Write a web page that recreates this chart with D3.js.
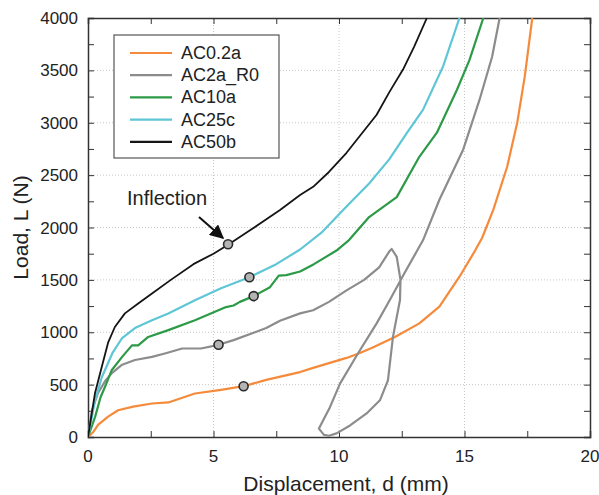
<!DOCTYPE html>
<html>
<head>
<meta charset="utf-8">
<script src="https://cdn.jsdelivr.net/npm/d3@7"></script>
<style>
  body { margin: 0; background: #fff; }
  svg text { font-family: Arial, "Liberation Sans", sans-serif; fill: #222; }
</style>
</head>
<body>
<svg id="chart" width="599" height="495"></svg>
<script>
// series: [displacement (mm), load (N)]
const ac02a = [[0,0],[0.2,45],[0.4,115],[0.8,195],[1.2,255],[1.8,290],[2.55,320],[3.2,330],[4.26,415],[5.3,450],[6.2,485],
  [7.1,545],[8.45,620],[8.97,660],[10.3,755],[10.76,795],[11.3,850],[12.23,955],[13.2,1085],[14.0,1245],[14.8,1530],
  [15.35,1750],[15.7,1900],[16.15,2170],[16.7,2580],[17.1,3000],[17.4,3440],[17.7,4000]];
const ac2aR0 = [[0,0],[0.16,255],[0.4,420],[0.7,540],[0.95,610],[1.36,690],[1.87,735],[2.55,765],[3.1,800],
  [3.75,845],[4.5,845],[5.2,880],[5.8,925],[7.1,1040],[7.65,1110],[8.45,1180],[8.97,1210],[9.6,1290],
  [10.3,1400],[11,1500],[11.6,1620],[12.0,1770],[12.1,1795],[12.3,1720],[12.45,1500],[12.43,1308],
  [12.15,956],[11.95,540],[11.63,350],[11.1,225],[10.44,110],[9.9,35],[9.6,12],[9.4,20],[9.2,80],
  [9.64,285],[10.04,510],[10.76,800],[11.5,1085],[12.03,1310],[12.6,1560],[13.35,1880],[14.0,2265],[14.95,2745],
  [15.6,3220],[16.1,3630],[16.4,4000]];
const ac10a = [[0,0],[0.28,190],[0.5,380],[0.67,475],[0.95,640],[1.36,765],[1.75,875],[2.0,875],[2.4,955],
  [3.2,1020],[4.26,1115],[5.5,1240],[5.8,1255],[6.05,1290],[6.6,1345],[7.25,1430],[7.6,1540],[7.9,1545],
  [8.45,1580],[9.0,1650],[9.9,1780],[10.4,1880],[11.2,2100],[12.3,2290],[13.2,2675],[13.9,2905],
  [14.7,3315],[15.2,3600],[15.75,4000]];
const ac25c = [[0,0],[0.28,350],[0.55,570],[0.97,800],[1.36,945],[1.87,1040],[2.55,1115],[3.2,1180],[4.26,1305],
  [5.3,1420],[6.43,1525],[7.5,1650],[8.45,1790],[9.3,1950],[10.3,2200],[11.2,2420],[12.0,2650],[12.7,2900],
  [13.35,3125],[14.15,3540],[14.8,4000]];
const ac50b = [[0,0],[0.28,420],[0.55,670],[0.8,900],[1.07,1050],[1.47,1180],[2.0,1275],[2.55,1370],[3.3,1500],
  [4.2,1650],[5.0,1750],[5.58,1835],[6.5,1980],[7.65,2168],[8.45,2310],[8.97,2388],[9.6,2530],[10.3,2713],[11.5,3077],
  [12.0,3290],[12.55,3508],[13.0,3730],[13.5,4000]];

const seriesNames = ["AC0.2a", "AC2a_R0", "AC10a", "AC25c", "AC50b"];
const seriesData = [ac02a, ac2aR0, ac10a, ac25c, ac50b];
const seriesColors = ["#f58b3a", "#8c8c8c", "#2c9a47", "#5fc6d6", "#151515"];

// inflection points
const inflections = [[6.2,485],[5.2,880],[6.6,1345],[6.43,1525],[5.58,1840]];

const xTicks = [0, 5, 10, 15, 20];
const yTicks = [0, 500, 1000, 1500, 2000, 2500, 3000, 3500, 4000];

const svg = d3.select("#chart");
const margin = {left: 88, right: 9, top: 18, bottom: 58};
const W = 599, H = 495;

const x = d3.scaleLinear().domain([0, 20]).range([margin.left, W - margin.right]);
const y = d3.scaleLinear().domain([0, 4000]).range([H - margin.bottom, margin.top]);

// dotted grid
svg.append("g")
    .selectAll("line")
    .data(xTicks.slice(1, -1))
    .join("line")
    .attr("x1", d => x(d)).attr("x2", d => x(d))
    .attr("y1", y(0)).attr("y2", y(4000))
    .attr("stroke", "#c8c8c8")
    .attr("stroke-dasharray", "1,2");

svg.append("g")
    .selectAll("line")
    .data(yTicks.slice(1, -1))
    .join("line")
    .attr("x1", x(0)).attr("x2", x(20))
    .attr("y1", d => y(d)).attr("y2", d => y(d))
    .attr("stroke", "#c8c8c8")
    .attr("stroke-dasharray", "1,2");

// axes with inward ticks on all sides
const xMinor = d3.range(0, 20.01, 2.5);
const yMinor = d3.range(0, 4000.1, 250);

svg.append("g")
    .attr("class", "axis")
    .attr("transform", `translate(0,${y(0)})`)
    .call(d3.axisBottom(x).tickValues(xMinor).tickSize(-6).tickFormat(""));
svg.append("g")
    .attr("class", "axis")
    .attr("transform", `translate(0,${y(4000)})`)
    .call(d3.axisTop(x).tickValues(xMinor).tickSize(-6).tickFormat(""));
svg.append("g")
    .attr("class", "axis")
    .attr("transform", `translate(${x(0)},0)`)
    .call(d3.axisLeft(y).tickValues(yMinor).tickSize(-6).tickFormat(""));
svg.append("g")
    .attr("class", "axis")
    .attr("transform", `translate(${x(20)},0)`)
    .call(d3.axisRight(y).tickValues(yMinor).tickSize(-6).tickFormat(""));

svg.selectAll(".axis path").attr("stroke", "#333").attr("stroke-width", 1.5);
svg.selectAll(".axis line").attr("stroke", "#333");

// tick labels
svg.append("g")
    .selectAll("text")
    .data(xTicks)
    .join("text")
    .attr("x", d => x(d))
    .attr("y", y(0) + 25)
    .attr("text-anchor", "middle")
    .attr("font-size", 17)
    .text(d => d);

svg.append("g")
    .selectAll("text")
    .data(yTicks)
    .join("text")
    .attr("x", x(0) - 10)
    .attr("y", d => y(d) + 6)
    .attr("text-anchor", "end")
    .attr("font-size", 17)
    .text(d => d);

svg.append("text")
    .attr("x", 346)
    .attr("y", 491)
    .attr("text-anchor", "middle")
    .attr("font-size", 21)
    .text("Displacement, d (mm)");

svg.append("text")
    .attr("transform", `translate(28,${(y(0) + y(4000)) / 2}) rotate(-90)`)
    .attr("text-anchor", "middle")
    .attr("font-size", 21)
    .text("Load, L (N)");

// curves
svg.append("clipPath").attr("id", "clip")
    .append("rect")
    .attr("x", x(0)).attr("y", y(4000))
    .attr("width", x(20) - x(0)).attr("height", y(0) - y(4000));

const line = d3.line().x(d => x(d[0])).y(d => y(d[1]));

svg.append("g")
    .attr("clip-path", "url(#clip)")
    .selectAll("path")
    .data(seriesData)
    .join("path")
    .attr("d", line)
    .attr("fill", "none")
    .attr("stroke", (d, i) => seriesColors[i])
    .attr("stroke-width", (d, i) => i === 4 ? 1.8 : 2.2)
    .attr("stroke-linejoin", "round");

svg.append("g")
    .selectAll("circle")
    .data(inflections)
    .join("circle")
    .attr("cx", d => x(d[0]))
    .attr("cy", d => y(d[1]))
    .attr("r", 4.5)
    .attr("fill", "#b4b4b4")
    .attr("stroke", "#2a2a2a")
    .attr("stroke-width", 1.6);

// annotation
svg.append("defs").append("marker")
    .attr("id", "arrow")
    .attr("viewBox", "0 0 10 10")
    .attr("refX", 9).attr("refY", 5)
    .attr("markerWidth", 7).attr("markerHeight", 7)
    .attr("orient", "auto")
    .append("path")
    .attr("d", "M0,0 L10,5 L0,10 Z")
    .attr("fill", "#111");

svg.append("line")
    .attr("x1", 199).attr("y1", 217)
    .attr("x2", 223).attr("y2", 238)
    .attr("stroke", "#111")
    .attr("stroke-width", 2)
    .attr("marker-end", "url(#arrow)");

svg.append("text")
    .attr("x", 127)
    .attr("y", 205)
    .attr("font-size", 20)
    .text("Inflection");

// legend
const legendGroup = svg.append("g");
legendGroup.append("rect")
    .attr("x", 114).attr("y", 35)
    .attr("width", 165).attr("height", 123)
    .attr("fill", "#fff")
    .attr("stroke", "#555")
    .attr("stroke-width", 1.2);

const legendItems = legendGroup.selectAll("g")
    .data(seriesNames)
    .join("g")
    .attr("transform", (d, i) => `translate(0,${53 + i * 22.2})`);

legendItems.append("line")
    .attr("x1", 130).attr("x2", 172)
    .attr("stroke", (d, i) => seriesColors[i])
    .attr("stroke-width", 2.2);

legendItems.append("text")
    .attr("x", 181)
    .attr("y", 6)
    .attr("font-size", 18)
    .text(d => d);
</script>
</body>
</html>
